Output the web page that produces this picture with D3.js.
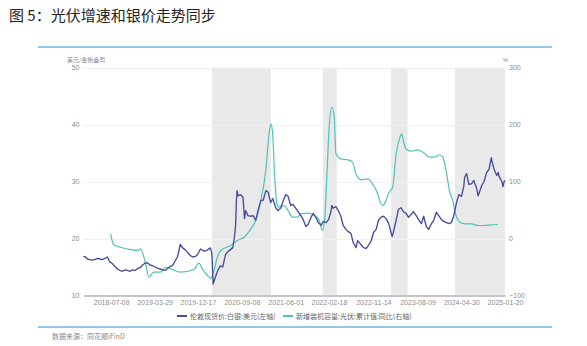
<!DOCTYPE html>
<html><head><meta charset="utf-8">
<script src="https://cdn.jsdelivr.net/npm/d3@7"></script>
<style>
html,body{margin:0;padding:0;background:#fff;}
svg{display:block;}
text{font-family:"Liberation Sans","Noto Sans CJK SC",sans-serif;}
.cjk{font-family:"Noto Sans CJK SC","Liberation Sans",sans-serif;}
</style>
</head><body>
<svg id="c" width="587" height="346"></svg>
<script>
const titleText = "图 5：光伏增速和银价走势同步";
const leftUnit = "美元/金衡盎司";
const rightUnit = "%";
const sourceText = "数据来源：同花顺iFinD";
const seriesNames = ["伦敦现货价:白银:美元(左轴)", "新增装机容量:光伏:累计值:同比(右轴)"];
const leftTicks = [10, 20, 30, 40, 50];
const rightTicks = [-100, 0, 100, 200, 300];
const dateTicks = ["2018-07-09","2019-03-29","2019-12-17","2020-09-08","2021-06-01","2022-02-18","2022-11-14","2023-08-09","2024-04-30","2025-01-20"];
const dateDomain = ["2018-01-22", "2025-01-20"];
const shadedPeriods = [["2020-03-12","2021-03-03"],["2022-01-12","2022-04-06"],["2023-03-01","2023-06-09"],["2024-03-23","2025-01-20"]];

// London spot silver, USD/oz (left axis)
const silver = [
["2018-01-22",16.8],["2018-02-01",16.8],["2018-02-15",16.4],["2018-03-01",16.3],["2018-03-15",16.2],["2018-04-01",16.3],["2018-04-15",16.5],["2018-05-01",16.4],["2018-05-15",16.3],["2018-06-01",16.5],["2018-06-15",16.75],
["2018-07-01",15.9],["2018-07-15",15.6],["2018-08-01",15.1],["2018-08-15",14.65],["2018-09-01",14.4],["2018-09-15",14.25],["2018-10-01",14.5],["2018-10-15",14.4],["2018-11-01",14.25],["2018-11-15",14.5],["2018-12-01",14.4],["2018-12-15",14.7],
["2019-01-01",14.9],["2019-01-15",15.35],["2019-02-01",15.7],["2019-02-15",15.7],["2019-03-01",15.35],["2019-03-15",15.25],["2019-04-01",15.0],["2019-04-15",14.8],["2019-05-01",14.65],["2019-05-15",14.55],["2019-06-01",14.4],["2019-06-15",14.75],
["2019-07-01",15.1],["2019-07-15",15.25],["2019-08-01",16.05],["2019-08-15",16.85],["2019-09-01",18.95],["2019-09-15",18.35],["2019-10-01",18.0],["2019-10-15",17.55],["2019-11-01",17.0],["2019-11-15",16.75],["2019-12-01",16.85],["2019-12-15",17.2],
["2020-01-01",18.15],["2020-01-15",17.9],["2020-02-01",17.8],["2020-02-15",18.05],["2020-03-01",18.35],["2020-03-10",17.4],["2020-03-18",12.0],["2020-04-01",13.3],["2020-04-15",14.4],["2020-05-01",15.2],["2020-05-15",15.0],["2020-06-01",17.2],["2020-06-15",17.7],
["2020-07-01",18.05],["2020-07-15",18.4],["2020-07-24",20.0],["2020-08-01",22.3],["2020-08-06",26.7],["2020-08-10",28.4],["2020-08-15",27.5],["2020-09-01",27.7],["2020-09-15",27.2],["2020-09-24",23.5],["2020-10-01",24.9],["2020-10-15",24.0],["2020-11-01",23.9],["2020-11-15",24.0],["2020-12-01",23.2],["2020-12-15",24.9],
["2021-01-01",26.7],["2021-01-15",26.7],["2021-02-01",28.4],["2021-02-15",28.1],["2021-03-01",26.3],["2021-03-15",27.0],["2021-04-01",25.4],["2021-04-15",24.9],["2021-05-01",25.3],["2021-05-15",26.5],["2021-06-01",27.7],["2021-06-15",27.4],
["2021-07-01",25.8],["2021-07-15",26.0],["2021-08-01",25.3],["2021-08-15",24.7],["2021-09-01",24.0],["2021-09-15",23.3],["2021-10-01",22.1],["2021-10-15",22.5],["2021-11-01",23.7],["2021-11-15",24.4],["2021-12-01",23.7],["2021-12-15",22.8],
["2022-01-01",22.3],["2022-01-15",23.0],["2022-02-01",22.8],["2022-02-15",23.3],["2022-03-01",24.6],["2022-03-08",25.8],["2022-03-15",25.3],["2022-04-01",25.6],["2022-04-15",24.9],["2022-05-01",23.9],["2022-05-15",22.3],["2022-06-01",21.6],["2022-06-15",21.2],
["2022-07-01",20.9],["2022-07-15",19.3],["2022-08-01",18.4],["2022-08-10",19.6],["2022-08-15",19.5],["2022-09-01",18.9],["2022-09-15",18.4],["2022-10-01",18.25],["2022-10-15",18.8],["2022-11-01",19.6],["2022-11-15",21.05],["2022-12-01",21.6],["2022-12-15",23.2],
["2023-01-01",23.8],["2023-01-15",23.9],["2023-02-01",23.4],["2023-02-15",22.6],["2023-03-01",21.05],["2023-03-08",20.35],["2023-03-15",21.05],["2023-04-01",23.2],["2023-04-15",25.1],["2023-05-01",25.4],["2023-05-15",24.7],["2023-06-01",24.4],["2023-06-15",23.7],
["2023-07-01",24.2],["2023-07-15",24.7],["2023-08-01",24.0],["2023-08-15",23.3],["2023-09-01",22.6],["2023-09-15",23.9],["2023-10-01",22.1],["2023-10-15",21.6],["2023-11-01",22.6],["2023-11-15",23.2],["2023-12-01",24.6],["2023-12-15",24.0],
["2024-01-01",23.3],["2024-01-15",23.0],["2024-02-01",22.8],["2024-02-15",22.6],["2024-03-01",22.8],["2024-03-15",23.9],["2024-04-01",26.3],["2024-04-15",27.7],["2024-05-01",27.4],["2024-05-15",29.1],["2024-05-20",30.7],["2024-06-01",31.4],["2024-06-15",29.5],
["2024-07-01",29.6],["2024-07-15",30.2],["2024-08-01",28.8],["2024-08-10",27.5],["2024-08-15",27.9],["2024-09-01",29.3],["2024-09-15",30.0],["2024-10-01",31.6],["2024-10-15",32.1],["2024-10-22",33.2],["2024-10-29",34.2],["2024-11-01",33.7],["2024-11-15",32.1],
["2024-12-01",31.05],["2024-12-10",31.6],["2024-12-15",30.9],["2025-01-01",30.0],["2025-01-08",29.1],["2025-01-15",30.0],["2025-01-20",30.2]
];

// China new PV installed capacity, cumulative YoY % (right axis)
const pvYoY = [
["2018-07-05",7.5],["2018-07-24",-10.5],["2018-09-03",-15.3],["2018-11-14",-19.8],["2018-12-14",-21.1],["2019-01-03",-18.1],["2019-02-02",-43.9],["2019-02-22",-67.9],
["2019-03-24",-59.1],["2019-05-04",-59.1],["2019-06-03",-50.4],["2019-07-04",-53.2],["2019-09-03",-59.1],["2019-11-23",-54.4],["2019-12-23",-43.3],
["2020-01-12",-53.2],["2020-02-12",-64.9],["2020-03-03",-69.8],["2020-03-23",-56.1],["2020-04-12",-32.8],["2020-05-03",-21.1],["2020-07-02",-12.3],["2020-08-12",-3.5],["2020-09-22",2.3],["2020-11-01",17.0],["2020-12-01",31.6],
["2021-01-01",66.7],["2021-01-31",119.3],["2021-02-20",183.7],["2021-03-02",201.2],["2021-03-12",189.5],["2021-03-26",107.5],["2021-04-08",60.9],["2021-04-22",54.9],["2021-05-22",57.9],["2021-06-15",49.1],["2021-07-12",37.4],["2021-08-11",37.4],["2021-08-31",43.3],["2021-10-11",44.4],["2021-11-20",40.4],["2021-12-21",31.6],
["2022-01-10",14.0],["2022-01-24",37.4],["2022-02-05",107.5],["2022-02-19",195.3],["2022-03-08",230.4],["2022-03-22",212.8],["2022-04-01",148.6],["2022-05-01",139.8],["2022-06-11",138.1],["2022-07-11",133.9],["2022-07-31",113.5],["2022-08-31",103.0],["2022-10-10",104.7],["2022-11-09",96.0],["2022-12-10",78.4],["2022-12-30",60.9],
["2023-01-13",57.9],["2023-01-29",66.7],["2023-02-18",81.2],["2023-03-11",90.0],["2023-04-01",148.6],["2023-04-21",174.9],["2023-05-05",183.7],["2023-05-17",169.0],["2023-05-31",157.4],["2023-07-01",153.2],["2023-08-10",155.6],["2023-09-19",149.6],["2023-10-20",142.6],["2023-11-19",142.6],["2023-12-19",146.9],
["2024-01-09",142.6],["2024-01-29",119.3],["2024-02-18",84.2],["2024-03-09",66.7],["2024-03-29",40.4],["2024-04-29",27.5],["2024-05-30",25.8],["2024-06-29",25.8],["2024-08-08",22.8],["2024-09-17",22.8],["2024-10-28",24.0],["2024-12-08",24.6]
];

const parse = d3.timeParse("%Y-%m-%d");
const svg = d3.select("#c");
const M = {l:83.5, r:505, t:67.5, b:295.5};

const x = d3.scaleTime().domain(dateDomain.map(parse)).range([M.l, M.r]);
const yL = d3.scaleLinear().domain([10, 50]).range([M.b, M.t]);
const yR = d3.scaleLinear().domain([-100, 300]).range([M.b, M.t]);

// title
svg.append("text").attr("class","cjk").attr("x",9).attr("y",21)
  .attr("font-size",15).attr("fill","#222").text(titleText);
// top and bottom rules
svg.append("line").attr("x1",38).attr("x2",552).attr("y1",47).attr("y2",47)
  .attr("stroke","#6fb3e0").attr("stroke-width",1.5);
svg.append("line").attr("x1",38).attr("x2",552).attr("y1",327).attr("y2",327)
  .attr("stroke","#6fb3e0").attr("stroke-width",1.5);

// shaded periods
svg.append("g").selectAll("rect").data(shadedPeriods).join("rect")
  .attr("x", d => x(parse(d[0])))
  .attr("width", d => x(parse(d[1])) - x(parse(d[0])))
  .attr("y", M.t).attr("height", M.b - M.t)
  .attr("fill", "#e9e9e9");

// gridlines
svg.append("g").selectAll("line").data(leftTicks.filter(v => v !== 10)).join("line")
  .attr("x1", M.l).attr("x2", M.r)
  .attr("y1", d => Math.round(yL(d)) + 0.5).attr("y2", d => Math.round(yL(d)) + 0.5)
  .attr("stroke", "#f0f0f0").attr("stroke-width", 1);

// left axis
const axL = svg.append("g").attr("transform", `translate(${M.l},0)`)
  .call(d3.axisLeft(yL).tickValues(leftTicks).tickSize(0).tickPadding(4));
axL.select(".domain").remove();
axL.selectAll("text").attr("font-size", 7).attr("fill", "#8c8c8c");

// right axis
const axR = svg.append("g").attr("transform", `translate(${M.r},0)`)
  .call(d3.axisRight(yR).tickValues(rightTicks).tickSize(0).tickPadding(4));
axR.select(".domain").remove();
axR.selectAll("text").attr("font-size", 7).attr("fill", "#8c8c8c");

// bottom axis
const axB = svg.append("g").attr("transform", `translate(0,${M.b})`)
  .call(d3.axisBottom(x).tickValues(dateTicks.map(parse)).tickFormat(d3.timeFormat("%Y-%m-%d")).tickSize(0).tickPadding(5));
axB.select(".domain").attr("stroke", "#c4c4cc").attr("stroke-width", 2);
axB.selectAll("text").attr("font-size", 7).attr("fill", "#8c8c8c");

// units
svg.append("text").attr("class","cjk").attr("x", 67).attr("y", 62).attr("font-size", 6).attr("fill", "#8c8c8c").text(leftUnit);
svg.append("text").attr("x", 503).attr("y", 62).attr("font-size", 6).attr("fill", "#8c8c8c").text(rightUnit);

// lines
const lineL = d3.line().x(d => x(parse(d[0]))).y(d => yL(d[1]));
const lineR = d3.line().x(d => x(parse(d[0]))).y(d => yR(d[1])).curve(d3.curveMonotoneX);

svg.append("path").datum(pvYoY).attr("d", lineR)
  .attr("fill", "none").attr("stroke", "#4fc3b8").attr("stroke-width", 1.2);
svg.append("path").datum(silver).attr("d", lineL)
  .attr("fill", "none").attr("stroke", "#474c98").attr("stroke-width", 1.35).attr("stroke-linejoin","round");

// legend
const legendColors = ["#474c98", "#4fc3b8"];
const legendX = [177, 283];
const lg = svg.append("g");
seriesNames.forEach((n, i) => {
  lg.append("line").attr("x1", legendX[i]).attr("x2", legendX[i] + 10).attr("y1", 316).attr("y2", 316)
    .attr("stroke", legendColors[i]).attr("stroke-width", 2);
  lg.append("text").attr("class","cjk").attr("x", legendX[i] + 13).attr("y", 318.5)
    .attr("font-size", 7).attr("fill", "#666").text(n);
});

// source
svg.append("text").attr("class","cjk").attr("x", 52).attr("y", 339).attr("font-size", 7).attr("fill", "#888").text(sourceText);
</script>
</body></html>
